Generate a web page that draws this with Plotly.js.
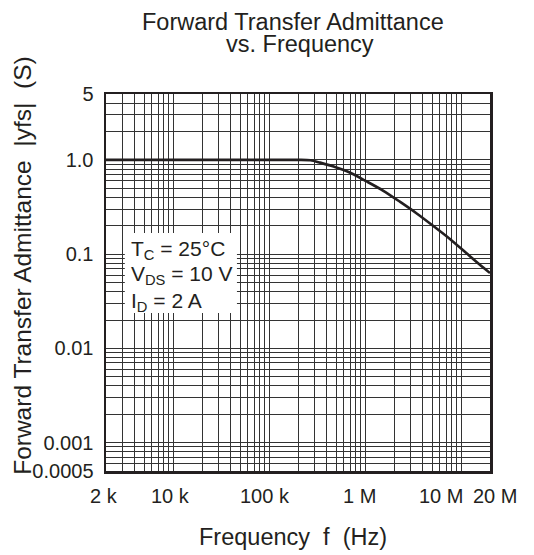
<!DOCTYPE html>
<html><head><meta charset="utf-8">
<script src="https://cdn.plot.ly/plotly-3.0.1.min.js"></script>
<style>html,body{margin:0;padding:0;background:#fff}#chart{width:534px;height:555px}</style>
</head><body><div id="chart"></div>
<script>
// ---- data ----
const frequencyHz = [2e3, 1e4, 1e5, 2e5, 2.7e5, 3.4e5, 4.7e5, 7e5, 1.04e6, 1.55e6, 2.3e6, 3.45e6, 5.1e6, 7.7e6, 1.14e7, 1.7e7, 2e7];
const admittanceS = [1.0, 1.0, 1.0, 1.0, 0.99, 0.935, 0.85, 0.73, 0.59, 0.47, 0.36, 0.27, 0.2, 0.144, 0.102, 0.072, 0.063];

const xTickValues = [2e3, 1e4, 1e5, 1e6, 1e7, 2e7];
const xTickLabels = ['2 k', '10 k', '100 k', '1 M', '10 M', '20 M'];
const yTickValues = [5, 1, 0.1, 0.01, 0.001, 0.0005];
const yTickLabels = ['5', '1.0', '0.1', '0.01', '0.001', '0.0005'];

const titleLines = ['Forward Transfer Admittance', 'vs. Frequency'];
const xAxisTitle = 'Frequency\u00a0\u00a0f\u00a0\u00a0(Hz)';
const yAxisTitle = 'Forward Transfer Admittance\u00a0\u00a0|yfs|\u00a0\u00a0(S)';
const conditionLines = ['T<sub>C</sub> = 25\u00b0C', 'V<sub>DS</sub> = 10 V', 'I<sub>D</sub> = 2 A'];

// ---- layout constants ----
const X_MIN = 2e3, X_MAX = 2e7, Y_MIN = 5e-4, Y_MAX = 5;
const INK = '#231f20';
const GRID = '#333333';
const FONT = 'Liberation Sans, Arial, sans-serif';

function logGrid(lo, hi) {
  const out = [];
  for (let d = Math.floor(Math.log10(lo)); d <= Math.ceil(Math.log10(hi)); d++) {
    for (let k = 1; k <= 9; k++) {
      const v = Number((k * Math.pow(10, d)).toPrecision(3));
      if (v >= lo * 0.999 && v <= hi * 1.001) out.push(v);
    }
  }
  return out;
}

const xGrid = logGrid(X_MIN, X_MAX);
const yGrid = logGrid(Y_MIN, Y_MAX);

const xLabelShift = [-2, -3, -4, -6, -20, 5];

const annotations = [];
xTickValues.forEach((v, i) => {
  annotations.push({
    x: Math.log10(v), xref: 'x', y: 0, yref: 'paper',
    text: xTickLabels[i], showarrow: false,
    xanchor: 'center', yanchor: 'top', yshift: -12, xshift: xLabelShift[i],
    font: {family: FONT, size: 20, color: INK}
  });
});
// title lines
annotations.push({x: 0.486, xref: 'paper', y: 1.191, yref: 'paper', text: titleLines[0], showarrow: false,
  xanchor: 'center', yanchor: 'middle', font: {family: FONT, size: 23.5, color: INK}});
annotations.push({x: 0.505, xref: 'paper', y: 1.133, yref: 'paper', text: titleLines[1], showarrow: false,
  xanchor: 'center', yanchor: 'middle', font: {family: FONT, size: 23.5, color: INK}});
// axis titles
annotations.push({x: 0.488, xref: 'paper', y: -0.175, yref: 'paper', text: xAxisTitle, showarrow: false,
  xanchor: 'center', yanchor: 'middle', font: {family: FONT, size: 23.5, color: INK}});
annotations.push({x: -0.218, xref: 'paper', y: 0.545, yref: 'paper', text: yAxisTitle, showarrow: false,
  textangle: -90, xanchor: 'center', yanchor: 'middle', font: {family: FONT, size: 24.5, color: INK}});
// condition text
const condY = [0.5875, 0.52, 0.4496];
conditionLines.forEach((t, i) => {
  annotations.push({x: 0.06, xref: 'paper', y: condY[i], yref: 'paper', text: t, showarrow: false,
    xanchor: 'left', yanchor: 'middle', font: {family: FONT, size: 21, color: INK}});
});

const trace = {
  x: frequencyHz, y: admittanceS, type: 'scatter', mode: 'lines',
  line: {color: INK, width: 2.6, shape: 'spline', smoothing: 0.8},
  hoverinfo: 'skip', showlegend: false, cliponaxis: true
};

const layout = {
  width: 534, height: 555,
  margin: {l: 106, r: 44, t: 94, b: 84},
  paper_bgcolor: '#fff', plot_bgcolor: '#fff',
  showlegend: false,
  font: {family: FONT, color: INK},
  xaxis: {
    type: 'log', range: [Math.log10(X_MIN), Math.log10(X_MAX)],
    tickmode: 'array', tickvals: xTickValues, showticklabels: false,
    showgrid: true, gridcolor: GRID, gridwidth: 1, ticks: '',
    minor: {tickmode: 'array', tickvals: xGrid, showgrid: true, gridcolor: GRID, gridwidth: 1, ticks: ''},
    showline: true, mirror: true, linecolor: INK, linewidth: 2.5, zeroline: false, fixedrange: true
  },
  yaxis: {
    type: 'log', range: [Math.log10(Y_MIN), Math.log10(Y_MAX)],
    tickmode: 'array', tickvals: yTickValues, ticktext: yTickLabels,
    tickfont: {family: FONT, size: 20, color: INK}, ticklabelstandoff: 6,
    showgrid: true, gridcolor: GRID, gridwidth: 1, ticks: '',
    minor: {tickmode: 'array', tickvals: yGrid, showgrid: true, gridcolor: GRID, gridwidth: 1, ticks: ''},
    showline: true, mirror: true, linecolor: INK, linewidth: 2.5, zeroline: false, fixedrange: true
  },
  shapes: [{
    type: 'rect', xref: 'paper', yref: 'paper', x0: 0.049, x1: 0.341, y0: 0.419, y1: 0.631,
    fillcolor: '#fff', line: {width: 0}, layer: 'above'
  }],
  annotations: annotations
};

Plotly.newPlot('chart', [trace], layout, {staticPlot: true, displayModeBar: false});
</script>
</body></html>
